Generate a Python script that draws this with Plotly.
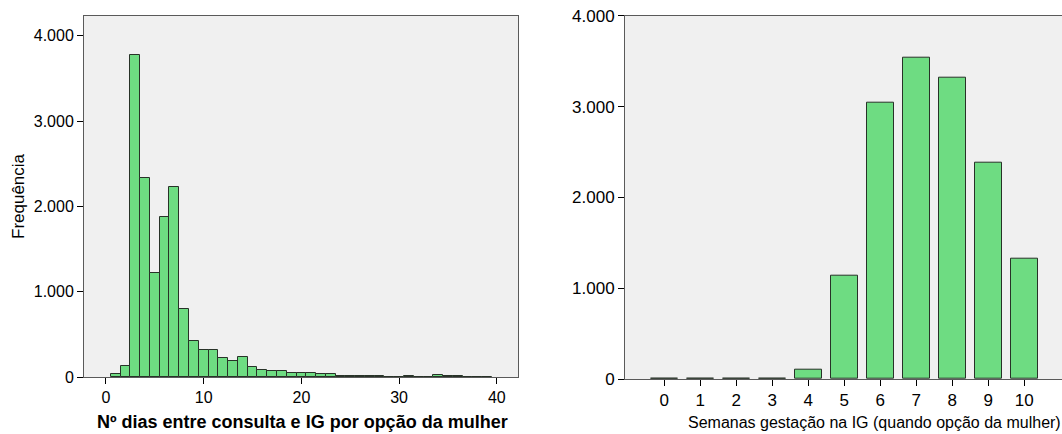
import plotly.graph_objects as go

# ---- data ----
dias_bins = list(range(1, 40))
dias_freq = [30, 125, 3780, 2334, 1224, 1877, 2229, 798, 426, 313,
             320, 227, 192, 235, 117, 82, 70, 70, 47, 47,
             51, 31, 31, 16, 8, 8, 12, 8, 4, 4,
             16, 4, 4, 24, 8, 8, 4, 4, 4]

semanas = [0, 1, 2, 3, 4, 5, 6, 7, 8, 9, 10]
semanas_freq = [5, 5, 5, 5, 106, 1138, 3046, 3538, 3321, 2382, 1328]

left_ticks = [0, 10, 20, 30, 40]
y_ticks = [0, 1000, 2000, 3000, 4000]

FILL = "rgb(110,220,130)"
EDGE = "rgb(40,50,40)"
FRAME = "rgb(90,90,90)"
FONT = "Liberation Sans, Arial, sans-serif"

W = 1062
H = 434


def px(x):
    return x / W


def py(y):
    return 1 - y / H


fig = go.Figure()
fig.add_trace(go.Bar(x=dias_bins, y=dias_freq, width=1,
                     marker=dict(color=FILL, line=dict(color=EDGE, width=1)),
                     xaxis="x", yaxis="y", showlegend=False))
fig.add_trace(go.Bar(x=semanas, y=semanas_freq, width=0.75,
                     marker=dict(color=FILL, line=dict(color=EDGE, width=1)),
                     xaxis="x2", yaxis="y2", showlegend=False))


def ax(size):
    return dict(showgrid=False, zeroline=False, showline=True, linecolor=FRAME,
                linewidth=1, ticks="outside", ticklen=6, tickcolor="black",
                automargin=False,
                tickfont=dict(size=size, color="black", family=FONT))


fig.update_layout(
    template="none",
    width=W, height=H,
    margin=dict(l=0, r=0, t=0, b=0, autoexpand=False),
    paper_bgcolor="white",
    plot_bgcolor="rgb(240,240,240)",
    separators=",.",
    font=dict(family=FONT, color="black"),
    bargap=0,
    xaxis=dict(domain=[px(84), px(518)], range=[-2.25, 42.17], tickvals=left_ticks,
               mirror=True, anchor="y", **ax(16)),
    yaxis=dict(domain=[py(377), py(16)], range=[0, 4232], tickvals=y_ticks,
               tickformat=",d", mirror=True, anchor="x", **ax(16)),
    xaxis2=dict(domain=[px(625), 1.0], range=[-1.09, 11.05], tickvals=semanas,
                mirror=True, anchor="y2", **ax(17)),
    yaxis2=dict(domain=[py(379), py(15.7)], range=[0, 4001], tickvals=y_ticks,
                tickformat=",d", anchor="x2", **ax(17)),
)

fig.add_annotation(text="<b>Nº dias entre consulta e IG por opção da mulher</b>",
                   x=px(302), y=py(422), xref="paper", yref="paper",
                   showarrow=False, font=dict(size=18, family=FONT, color="black"),
                   xanchor="center", yanchor="middle")
fig.add_annotation(text="Frequência", x=px(18), y=py(196), xref="paper", yref="paper",
                   showarrow=False, textangle=-90,
                   font=dict(size=17, family=FONT, color="black"),
                   xanchor="center", yanchor="middle")
fig.add_annotation(text="Semanas gestação na IG (quando opção da mulher)",
                   x=px(874), y=py(422),
                   xref="paper", yref="paper", showarrow=False,
                   font=dict(size=16, family=FONT, color="black"),
                   xanchor="center", yanchor="middle")

fig.write_html("out.html",
               config={"displayModeBar": False},
               post_script="document.body.style.margin='0px';document.body.style.overflow='hidden';")
